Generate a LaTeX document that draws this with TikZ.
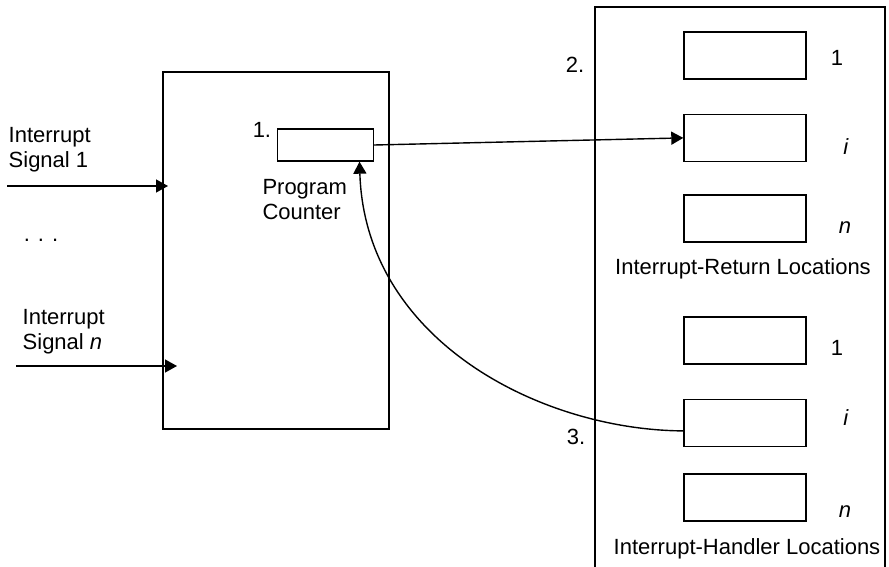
\documentclass[tikz,border=0pt]{standalone}
\usepackage{fontspec}
\setmainfont{Liberation Sans}
\usetikzlibrary{positioning, arrows.meta}

\tikzset{
	cell/.style={draw, rectangle, minimum width=61pt, minimum height=23.5pt, inner sep=0pt},
	tip/.style={-{Triangle[length=6pt,width=6.5pt]}},
	lbl/.style={inner sep=0pt, align=left}
}

\begin{document}
\begin{tikzpicture}[x=0.5pt, y=-0.5pt, line width=0.7pt, font=\fontsize{11}{12.5}\selectfont]
	\useasboundingbox (0,0) rectangle (889,567);
	
	% processor
	\node[draw, minimum width=113pt, minimum height=178.5pt] (cpu) at (276,250.5) {};
	\node[draw, minimum width=48pt, minimum height=16pt, inner sep=0pt] (pc) at (325.5,145) {};
	\node[lbl, left=2.5pt of pc.north west, yshift=-1pt] (one) {1.};
	\node[lbl, below=8.5pt of pc.south west, anchor=north west, xshift=-7.5pt] (pcname) {Program\\Counter};
	
	% interrupt signals
	\node[lbl, anchor=west] (sig1) at (8,150) {Interrupt\\Signal 1};
	\node[lbl] (dots) at (41,240) {.\hspace{4pt}.\hspace{4pt}.};
	\node[lbl, anchor=west] (sign) at (22,332) {Interrupt\\Signal \textit{n}};
	\coordinate (s1) at (7,186);
	\coordinate (s1e) at (168,186);
	\coordinate (sn) at (16,366);
	\coordinate (sne) at (177,366);
	\draw[tip] (s1) -- (s1e);
	\draw[tip] (sn) -- (sne);
	
	% memory
	\node[draw, minimum width=145pt, minimum height=281.5pt] (mem) at (740,288.5) {};
	\node[lbl, anchor=east] (two) at (585,65) {2.};
	\node[lbl, anchor=east] (three) at (586,437) {3.};
	
	\node[cell] (ret1) at (745,55.5) {};
	\node[cell, below=17pt of ret1] (ret2) {};
	\node[cell, below=16pt of ret2] (ret3) {};
	\node[lbl, below=7.5pt of ret3, xshift=-1pt] (retname) {Interrupt-Return Locations};
	
	\node[cell] (hnd1) at (745,340.5) {};
	\node[cell, below=17pt of hnd1] (hnd2) {};
	\node[cell, below=13pt of hnd2] (hnd3) {};
	\node[lbl, below=8pt of hnd3, xshift=1pt] (hndname) {Interrupt-Handler Locations};
	
	\node[lbl] (r1) at (837,58) {1};
	\node[lbl] (ri) at (846,147) {\textit{i}};
	\node[lbl] (rn) at (845,228) {\textit{n}};
	\node[lbl] (h1) at (837,348) {1};
	\node[lbl] (hi) at (846,418) {\textit{i}};
	\node[lbl] (hn) at (845,512) {\textit{n}};
	
	\draw[tip] (pc.east) -- (ret2.west);
	\draw[tip] ([yshift=-4pt]hnd2.west) .. controls (540,430) and (365,340) .. ([xshift=17pt]pc.south);
\end{tikzpicture}
\end{document}
